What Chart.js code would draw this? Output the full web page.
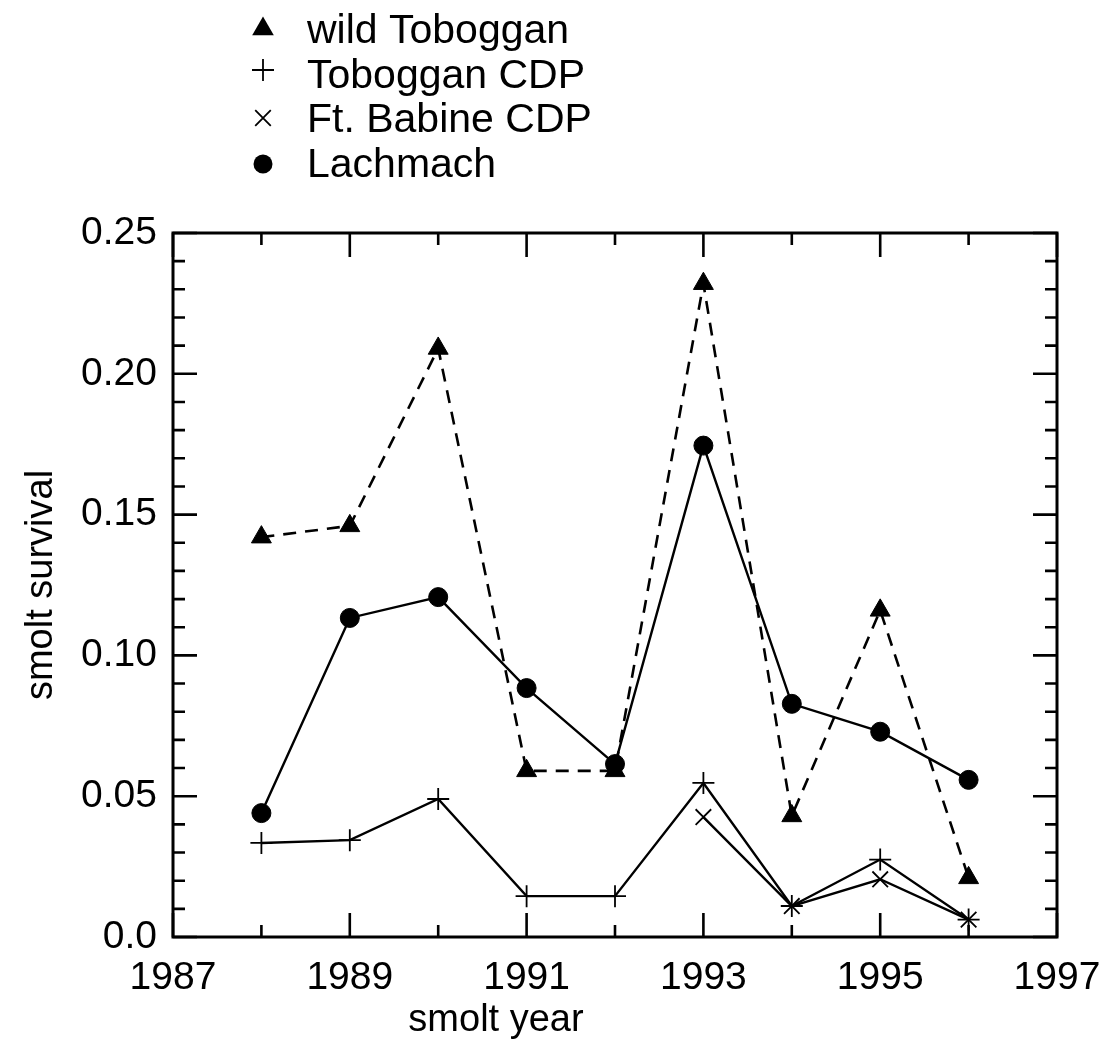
<!DOCTYPE html>
<html>
<head>
<meta charset="utf-8">
<script src="https://cdn.jsdelivr.net/npm/chart.js@4/dist/chart.umd.min.js"></script>
<style>
html,body{margin:0;padding:0;background:#fff;}
#wrap{width:1107px;height:1053px;position:relative;}
</style>
</head>
<body>
<div id="wrap"><canvas id="c" width="1107" height="1053"></canvas></div>
<script>
// ---- data ----
const years = [1988, 1989, 1990, 1991, 1992, 1993, 1994, 1995, 1996];
const wildToboggan = [0.142, 0.146, 0.209, 0.059, 0.059, 0.232, 0.043, 0.116, 0.021];
const tobogganCDP = [0.0334, 0.0344, 0.049, 0.0145, 0.0145, 0.0547, 0.011, 0.0275, 0.0062];
const ftBabineCDP = [null, null, null, null, null, 0.0426, 0.011, 0.0205, 0.0062];
const lachmach = [0.044, 0.1133, 0.1207, 0.0884, 0.0614, 0.1745, 0.0828, 0.0729, 0.0558];
const seriesNames = ['wild Toboggan', 'Toboggan CDP', 'Ft. Babine CDP', 'Lachmach'];
const xTickLabels = ['1987', '1989', '1991', '1993', '1995', '1997'];
const yTickLabels = ['0.0', '0.05', '0.10', '0.15', '0.20', '0.25'];
const xTitle = 'smolt year';
const yTitle = 'smolt survival';

const FONT = 'Liberation Sans, Arial, sans-serif';

function pts(vals) {
  return years.map((y, i) => ({x: y, y: vals[i]}));
}

const datasets = [
  {label: seriesNames[0], data: pts(wildToboggan), borderColor: '#000', backgroundColor: '#000',
   borderWidth: 2.6, borderDash: [13, 9], pointStyle: 'triangle', pointRadius: 11.5,
   pointBackgroundColor: '#000', pointBorderColor: '#000', pointBorderWidth: 1},
  {label: seriesNames[1], data: pts(tobogganCDP), borderColor: '#000', backgroundColor: '#000',
   borderWidth: 2.4, pointStyle: 'cross', pointRadius: 11,
   pointBorderColor: '#000', pointBorderWidth: 1.8},
  {label: seriesNames[2], data: pts(ftBabineCDP), borderColor: '#000', backgroundColor: '#000',
   borderWidth: 2.4, pointStyle: 'crossRot', pointRadius: 11,
   pointBorderColor: '#000', pointBorderWidth: 1.8},
  {label: seriesNames[3], data: pts(lachmach), borderColor: '#000', backgroundColor: '#000',
   borderWidth: 2.4, pointStyle: 'circle', pointRadius: 9.5,
   pointBackgroundColor: '#000', pointBorderColor: '#000', pointBorderWidth: 1}
];

function drawMarker(ctx, style, r, x, y) {
  ctx.save();
  ctx.fillStyle = '#000';
  ctx.strokeStyle = '#000';
  ctx.lineWidth = 1.8;
  ctx.beginPath();
  if (style === 'triangle') {
    for (let k = 0; k < 3; k++) {
      const a = -Math.PI / 2 + k * 2 * Math.PI / 3;
      const px = x + Math.cos(a) * r, py = y + Math.sin(a) * r;
      if (k === 0) ctx.moveTo(px, py); else ctx.lineTo(px, py);
    }
    ctx.closePath();
    ctx.fill();
  } else if (style === 'cross') {
    ctx.moveTo(x - r, y); ctx.lineTo(x + r, y);
    ctx.moveTo(x, y - r); ctx.lineTo(x, y + r);
    ctx.stroke();
  } else if (style === 'crossRot') {
    const d = r * Math.SQRT1_2;
    ctx.moveTo(x - d, y - d); ctx.lineTo(x + d, y + d);
    ctx.moveTo(x - d, y + d); ctx.lineTo(x + d, y - d);
    ctx.stroke();
  } else {
    ctx.arc(x, y, r, 0, Math.PI * 2);
    ctx.fill();
  }
  ctx.restore();
}

const framePlugin = {
  id: 'frameTicks',
  afterDraw(chart) {
    const ctx = chart.ctx;
    const a = chart.chartArea;
    const xs = chart.scales.x, ys = chart.scales.y;
    ctx.save();
    ctx.strokeStyle = '#000';
    ctx.lineWidth = 3;
    ctx.strokeRect(a.left, a.top, a.right - a.left, a.bottom - a.top);
    ctx.lineWidth = 2.6;
    ctx.beginPath();
    for (let yr = xs.min; yr <= xs.max; yr++) {
      const px = xs.getPixelForValue(yr);
      const len = ((yr - 1987) % 2 === 0) ? 24 : 12;
      ctx.moveTo(px, a.bottom); ctx.lineTo(px, a.bottom - len);
      ctx.moveTo(px, a.top); ctx.lineTo(px, a.top + len);
    }
    for (let k = 0; k <= 25; k++) {
      const py = ys.getPixelForValue(k / 100);
      const len = (k % 5 === 0) ? 24 : 12;
      ctx.moveTo(a.left, py); ctx.lineTo(a.left + len, py);
      ctx.moveTo(a.right, py); ctx.lineTo(a.right - len, py);
    }
    ctx.stroke();

    // x axis title (placed left of centre, as in the original)
    ctx.font = '38px ' + FONT;
    ctx.fillStyle = '#000';
    ctx.textBaseline = 'middle';
    ctx.textAlign = 'center';
    ctx.fillText(xTitle, 496, 1021);

    // legend
    const rows = [32, 77, 121, 166];
    const markerY = [29, 70, 118, 164];
    const styles = ['triangle', 'cross', 'crossRot', 'circle'];
    const radii = [12.5, 11, 11, 9.5];
    ctx.font = '41px ' + FONT;
    ctx.textAlign = 'left';
    chart.data.datasets.forEach((ds, i) => {
      drawMarker(ctx, styles[i], radii[i], 263, markerY[i]);
      ctx.fillText(ds.label, 307, rows[i]);
    });
    ctx.restore();
  }
};

new Chart(document.getElementById('c'), {
  type: 'line',
  data: {datasets},
  options: {
    responsive: false,
    animation: false,
    layout: {padding: {top: 233, right: 50, left: 0, bottom: 0}},
    plugins: {legend: {display: false}, tooltip: {enabled: false}},
    elements: {line: {tension: 0}},
    scales: {
      x: {
        type: 'linear', min: 1987, max: 1997,
        afterFit(s) { s.height = 116; s.paddingLeft = 0; s.paddingRight = 0; },
        grid: {display: false, drawTicks: false},
        border: {display: false},
        ticks: {
          stepSize: 2, padding: 18, color: '#000', maxRotation: 0,
          font: {family: FONT, size: 39},
          callback: (v) => xTickLabels[xTickLabels.indexOf(String(v))] || ''
        },
        title: {display: false}
      },
      y: {
        min: 0, max: 0.25,
        afterFit(s) { s.width = 173; s.paddingTop = 0; s.paddingBottom = 0; },
        grid: {display: false, drawTicks: false},
        border: {display: false},
        ticks: {
          stepSize: 0.05, padding: 16, color: '#000',
          font: {family: FONT, size: 39},
          callback: (v) => yTickLabels[Math.round(v / 0.05)]
        },
        title: {display: true, text: yTitle, color: '#000', font: {family: FONT, size: 38},
                padding: {top: 19, bottom: 0}}
      }
    }
  },
  plugins: [framePlugin]
});
</script>
</body>
</html>
